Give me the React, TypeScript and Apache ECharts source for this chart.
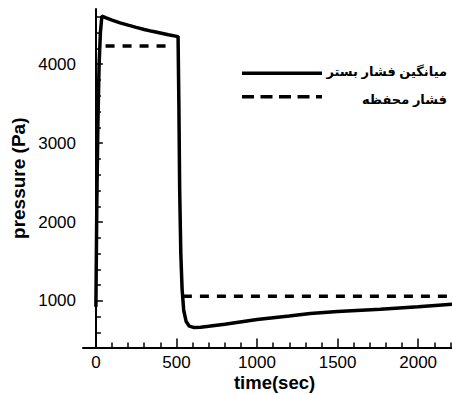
import React, { useEffect, useRef } from "react";
import * as echarts from "echarts";

const bedTime = [0, 3, 6, 12, 20, 28, 37, 60, 100, 150, 200, 250, 300, 350, 400, 450, 510, 515, 520, 527, 535, 545, 560, 580, 605, 650, 700, 800, 1000, 1200, 1330, 1500, 1765, 2000, 2210];
const bedPressure = [925, 1600, 2270, 3200, 4000, 4400, 4610, 4590, 4560, 4525, 4495, 4467, 4441, 4417, 4395, 4373, 4350, 3500, 2400, 1600, 1150, 880, 740, 680, 665, 668, 678, 705, 765, 810, 840, 865, 894, 927, 958];
const chamberTime = [60, 475, 475, 540, 2210];
const chamberPressure: (number | string)[] = [4230, 4230, "-", 1058, 1058];

const xMajor = [0, 500, 1000, 1500, 2000];
const xMinor = [100, 200, 300, 400, 600, 700, 800, 900, 1100, 1200, 1300, 1400, 1600, 1700, 1800, 1900, 2100, 2200];
const yMajor = [1000, 2000, 3000, 4000];
const yMinor = [600, 800, 1200, 1400, 1600, 1800, 2200, 2400, 2600, 2800, 3200, 3400, 3600, 3800, 4200, 4400, 4600];

const bedName = "میانگین فشار بستر";
const chamberName = "فشار محفظه";

export default function App() {
  const ref = useRef<HTMLDivElement>(null);
  useEffect(() => {
    if (!ref.current) return;
    const chart = echarts.init(ref.current, null, { renderer: "svg" });
    const font = "Arial, 'Liberation Sans', sans-serif";
    const legendFont = "bold 13px Arial, 'DejaVu Sans', sans-serif";
    const baseX = {
      type: "value" as const,
      min: -80,
      max: 2210,
      position: "bottom" as const,
      splitLine: { show: false },
    };
    const baseY = {
      type: "value" as const,
      min: 410,
      max: 4700,
      position: "left" as const,
      splitLine: { show: false },
    };
    chart.setOption({
      animation: false,
      backgroundColor: "#ffffff",
      grid: { left: 83, right: 0, top: 9, bottom: 46.5, containLabel: false, outerBoundsMode: "none" },
      xAxis: [
        {
          ...baseX,
          name: "time(sec)",
          nameLocation: "middle",
          nameGap: 25,
          nameMoveOverlap: false,
          nameTextStyle: {
            fontFamily: font,
            fontWeight: "bold",
            fontSize: 18.5,
            color: "#000",
            padding: [0, 0, 0, 14],
          },
          axisLine: { show: true, lineStyle: { color: "#000", width: 2 } },
          axisTick: { show: true, inside: true, length: 9, customValues: xMajor, lineStyle: { color: "#000", width: 1.5 } },
          axisLabel: { show: true, customValues: xMajor, margin: 6, fontFamily: font, fontSize: 17, color: "#000", formatter: (v: number) => String(v) },
        },
        {
          ...baseX,
          axisLine: { show: false },
          axisTick: { show: true, inside: true, length: 5, customValues: xMinor, lineStyle: { color: "#000", width: 1.5 } },
          axisLabel: { show: false },
        },
      ],
      yAxis: [
        {
          ...baseY,
          name: "pressure (Pa)",
          nameLocation: "middle",
          nameGap: 55,
          nameMoveOverlap: false,
          nameRotate: 90,
          nameTextStyle: { fontFamily: font, fontWeight: "bold", fontSize: 19, color: "#000" },
          axisLine: { show: true, lineStyle: { color: "#000", width: 2 } },
          axisTick: { show: true, inside: true, length: 7, customValues: yMajor, lineStyle: { color: "#000", width: 1.5 } },
          axisLabel: { show: true, customValues: yMajor, margin: 7, fontFamily: font, fontSize: 17, color: "#000", formatter: (v: number) => String(v) },
        },
        {
          ...baseY,
          axisLine: { show: false },
          axisTick: { show: true, inside: true, length: 5, customValues: yMinor, lineStyle: { color: "#000", width: 1.5 } },
          axisLabel: { show: false },
        },
      ],
      graphic: [
        { type: "line", shape: { x1: 242, y1: 73.3, x2: 322, y2: 73.3 }, style: { stroke: "#000", lineWidth: 3.5 } },
        { type: "text", x: 447, y: 71, style: { text: bedName, font: legendFont, fill: "#000", align: "right", verticalAlign: "middle" } },
        { type: "line", shape: { x1: 242, y1: 96.7, x2: 322, y2: 96.7 }, style: { stroke: "#000", lineWidth: 3.5, lineDash: [12, 6.5] } },
        { type: "text", x: 447, y: 99, style: { text: chamberName, font: legendFont, fill: "#000", align: "right", verticalAlign: "middle" } },
      ],
      series: [
        {
          name: bedName,
          type: "line",
          xAxisIndex: 0,
          yAxisIndex: 0,
          data: bedTime.map((t, i) => [t, bedPressure[i]]),
          showSymbol: false,
          symbol: "none",
          lineStyle: { color: "#000", width: 3.5 },
          itemStyle: { color: "#000" },
        },
        {
          name: chamberName,
          type: "line",
          xAxisIndex: 0,
          yAxisIndex: 0,
          data: chamberTime.map((t, i) => [t, chamberPressure[i]]),
          connectNulls: false,
          showSymbol: false,
          symbol: "none",
          lineStyle: { color: "#000", width: 3.5, type: [9, 8] },
          itemStyle: { color: "#000" },
        },
      ],
    });
    return () => chart.dispose();
  }, []);
  return <div ref={ref} style={{ position: "absolute", left: 0, top: 0, width: 452, height: 394 }} />;
}
